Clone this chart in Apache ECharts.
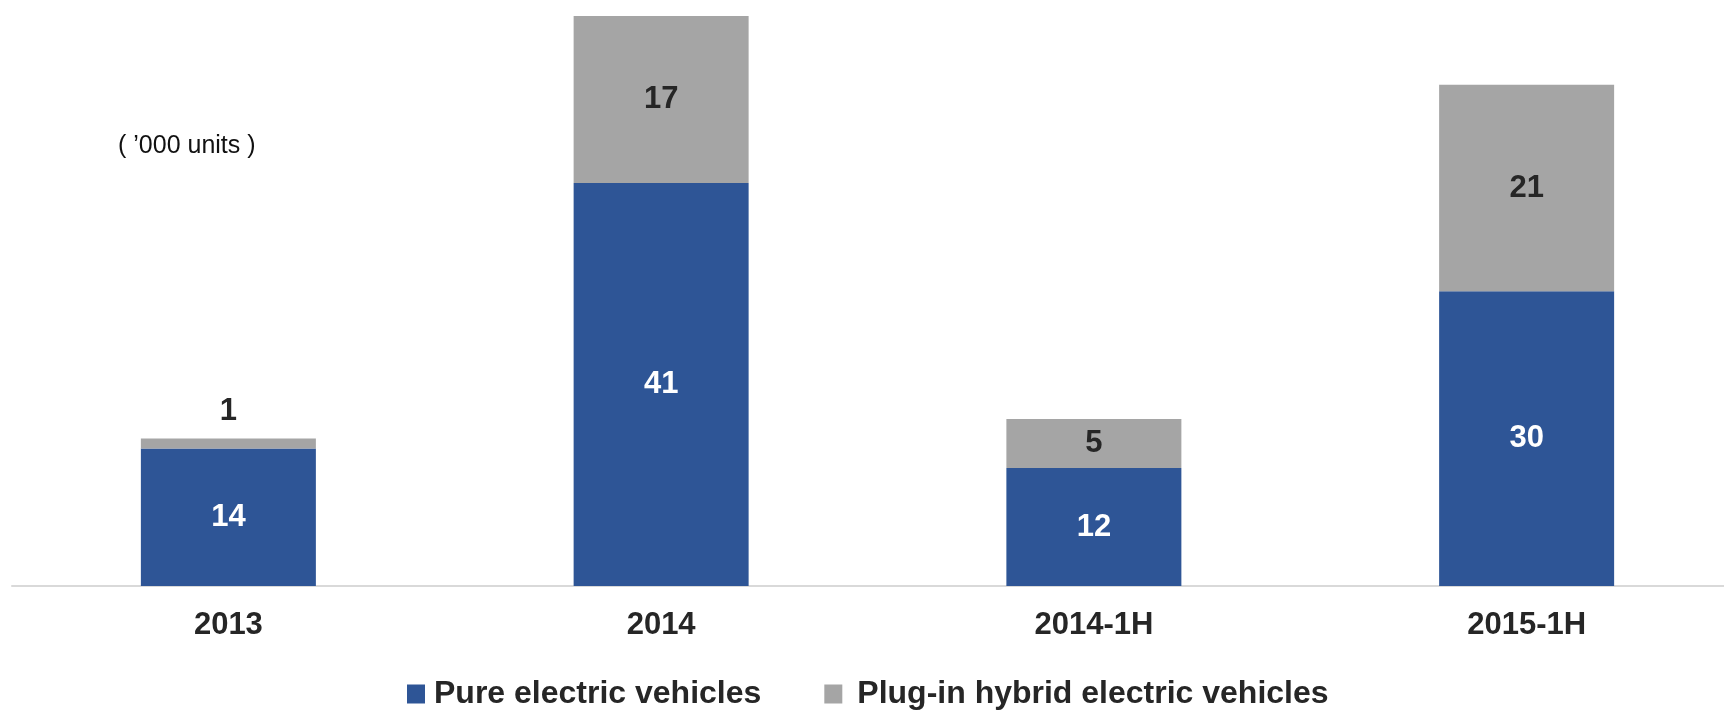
<!DOCTYPE html>
<html>
<head>
<meta charset="utf-8">
<title>Electric vehicle production</title>
<script src="https://cdn.jsdelivr.net/npm/echarts@6/dist/echarts.min.js"></script>
<style>
  html, body { margin: 0; padding: 0; background: #ffffff; }
  #chart { width: 1724px; height: 711px; }
</style>
</head>
<body>
<div id="chart"></div>
<script>
// Periods on the category axis
const categories = ['2013', '2014', '2014-1H', '2015-1H'];
// Production, thousand units
const pureElectric = [14, 41, 12, 30];
const plugInHybrid = [1, 17, 5, 21];
const seriesNames = ['Pure electric vehicles', 'Plug-in hybrid electric vehicles'];
const unitText = '( \u2019000 units )';

const FONT = '"Liberation Sans", Arial, Helvetica, sans-serif';
const BLUE = '#2E5596';
const GREY = '#A5A5A5';
const DARK = '#262626';

// Segments too thin to hold their label get it placed above the stack
const hybridData = plugInHybrid.map(v => v < 3
  ? { value: v, label: { position: 'top', distance: 12 } }
  : v);

const chart = echarts.init(document.getElementById('chart'), null, { renderer: 'canvas' });

chart.setOption({
  animation: false,
  backgroundColor: '#ffffff',
  // the plot area runs a little past the right edge of the canvas
  grid: {
    left: 12, right: -19, top: 16, bottom: 125,
    containLabel: false, outerBoundsMode: 'none'
  },
  xAxis: {
    type: 'category',
    data: categories,
    axisLine: { show: true, lineStyle: { color: '#D9D9D9', width: 2 } },
    axisTick: { show: false },
    axisLabel: {
      color: DARK, fontFamily: FONT, fontWeight: 'bold', fontSize: 31, margin: 24
    }
  },
  yAxis: {
    type: 'value',
    min: 0,
    max: 58,
    show: false,
    splitLine: { show: false }
  },
  legend: {
    data: [
      { name: seriesNames[0], textStyle: { padding: [0, 0, 0, 4] } },
      { name: seriesNames[1], textStyle: { padding: [0, 0, 0, 10] } }
    ],
    left: 402,
    top: 673,
    itemWidth: 18,
    itemHeight: 19,
    itemGap: 63,
    icon: 'rect',
    textStyle: {
      color: DARK, fontFamily: FONT, fontWeight: 'bold', fontSize: 32
    }
  },
  graphic: [{
    type: 'text',
    left: 118,
    top: 134,
    style: { text: unitText, fill: '#111111', font: '25px ' + FONT }
  }],
  series: [
    {
      name: seriesNames[0],
      type: 'bar',
      stack: 'total',
      barWidth: 175,
      data: pureElectric,
      itemStyle: { color: BLUE },
      label: {
        show: true, position: 'inside', color: '#ffffff',
        fontFamily: FONT, fontWeight: 'bold', fontSize: 31
      }
    },
    {
      name: seriesNames[1],
      type: 'bar',
      stack: 'total',
      barWidth: 175,
      data: hybridData,
      itemStyle: { color: GREY },
      label: {
        show: true, position: 'inside', color: DARK,
        fontFamily: FONT, fontWeight: 'bold', fontSize: 31
      }
    }
  ]
});
</script>
</body>
</html>
